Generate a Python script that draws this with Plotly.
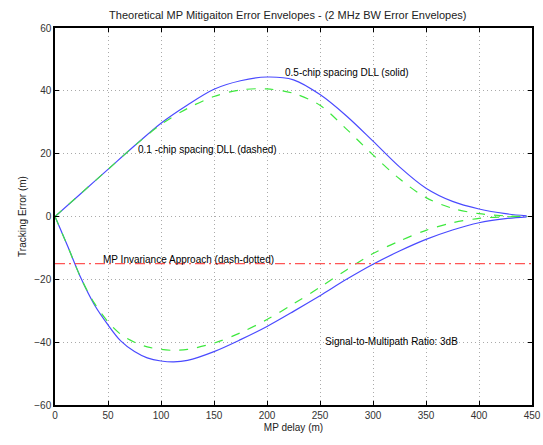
import plotly.graph_objects as go

x_upper = [0, 25, 50, 75, 100, 125, 150, 175, 200, 225, 250, 275, 300, 325, 350, 375, 400, 425, 445]
blue_upper = [0, 7.5, 15, 22.5, 29.7, 35.5, 40.5, 43.2, 44.4, 43.5, 38.8, 32, 24, 15.8, 9, 4.8, 2.4, 0.9, 0.2]
green_upper = [0, 7.5, 15, 22.5, 29.3, 34.4, 38.2, 40.3, 40.6, 39.2, 35.4, 27.8, 19.6, 12, 6, 2.6, 0.9, 0.2, 0]

x_lower = [0, 12, 25, 37, 50, 62, 75, 87, 100, 112, 125, 150, 175, 200, 225, 250, 275, 300, 325, 350, 375, 400, 425, 445]
blue_lower = [0, -9.5, -20, -28, -34.5, -39.6, -43, -45, -46, -46.3, -45.8, -43, -39.2, -35, -30.2, -25.2, -20, -15.2, -11, -7.3, -4.3, -2, -0.7, -0.1]
green_lower = [0, -9.5, -20, -27.5, -33.5, -37.5, -40, -41.5, -42.3, -42.6, -42.3, -40.3, -37, -32.8, -27.8, -22.5, -17, -11.8, -7.8, -4.4, -2, -0.6, -0.1, 0]

mp_x = [0, 450]
mp_y = [-15, -15]

blue = "#4a4aff"
green = "#3ee83e"
red = "#ff5555"
font = "Liberation Sans, Arial, sans-serif"

fig = go.Figure()
sm = 0.9
fig.add_trace(go.Scatter(x=x_upper, y=blue_upper, mode="lines", line=dict(color=blue, width=1.2, shape="spline", smoothing=sm)))
fig.add_trace(go.Scatter(x=x_lower, y=blue_lower, mode="lines", line=dict(color=blue, width=1.2, shape="spline", smoothing=sm)))
fig.add_trace(go.Scatter(x=x_upper, y=green_upper, mode="lines", line=dict(color=green, width=1.2, dash="dash", shape="spline", smoothing=sm)))
fig.add_trace(go.Scatter(x=x_lower, y=green_lower, mode="lines", line=dict(color=green, width=1.2, dash="dash", shape="spline", smoothing=sm)))
fig.add_trace(go.Scatter(x=mp_x, y=mp_y, mode="lines", line=dict(color=red, width=1.4, dash="10px,4px,2px,4px")))

ann = dict(showarrow=False, xanchor="left", yanchor="middle", font=dict(family=font, size=10, color="black"))
fig.add_annotation(x=215, y=45.9, text="0.5-chip spacing DLL (solid)", **ann)
fig.add_annotation(x=76, y=21.3, text="0.1 -chip spacing DLL (dashed)", **ann)
fig.add_annotation(x=43, y=-13.7, text="MP Invariance Approach (dash-dotted)", **ann)
fig.add_annotation(x=253, y=-39.8, text="Signal-to-Multipath Ratio: 3dB", **ann)

axis_common = dict(showline=True, linecolor="black", linewidth=1.5, mirror="ticks", ticks="inside",
                   ticklen=4, tickcolor="black", showgrid=True, gridcolor="#aaaaaa", griddash="1px,3px",
                   gridwidth=1, zeroline=False, automargin=False,
                   tickfont=dict(family=font, size=10, color="#333333"))

fig.update_layout(
    width=543, height=445,
    margin=dict(l=55, r=11, t=28, b=40),
    paper_bgcolor="white", plot_bgcolor="white",
    showlegend=False,
    title=dict(text="Theoretical MP Mitigaiton Error Envelopes - (2 MHz BW Error Envelopes)",
               x=0.53, xanchor="center", y=0.965, yanchor="middle",
               font=dict(family=font, size=11, color="#222222")),
    xaxis=dict(range=[0, 450], dtick=50, tick0=0,
               title=dict(text="MP delay (m)", standoff=4, font=dict(family=font, size=10, color="#222222")),
               **axis_common),
    yaxis=dict(range=[-60, 60], dtick=20, tick0=0,
               title=dict(text="Tracking Error (m)", standoff=6, font=dict(family=font, size=10, color="#222222")),
               **axis_common),
)

fig.write_html("out.html")
